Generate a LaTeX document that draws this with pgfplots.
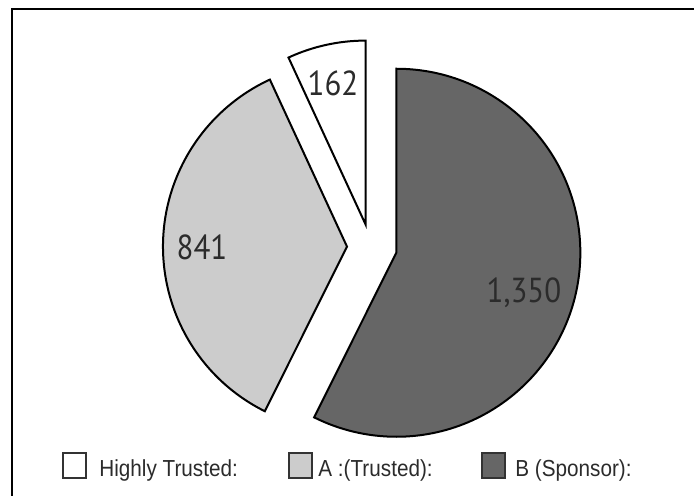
\documentclass[border=0pt]{standalone}
\usepackage{pgfplots}
\usepackage{pgfplotstable}
\pgfplotsset{compat=1.18}
\usepackage{fontspec}
\setmainfont{Liberation Sans}
\newfontfamily\labelfont{PT Sans}

\definecolor{sliceA}{HTML}{CCCCCC}
\definecolor{sliceB}{HTML}{666666}
\definecolor{labtext}{HTML}{2B2B2B}

% pie values
\pgfplotstableread{
name value
HT 162
A 841
B 1350
}\piedata

% text in the reference is slightly stretched vertically
\newcommand\tall[1]{\scalebox{1}[1.12]{#1}}

\begin{document}
\begin{tikzpicture}
\useasboundingbox (0,0) rectangle (347pt,247.5pt);
% angles: B starts at 12 o'clock, all slices clockwise
\pgfplotstablegetelem{0}{value}\of\piedata \let\vW\pgfplotsretval
\pgfplotstablegetelem{1}{value}\of\piedata \let\vA\pgfplotsretval
\pgfplotstablegetelem{2}{value}\of\piedata \let\vB\pgfplotsretval
\pgfmathsetmacro\tot{\vW+\vA+\vB}
\pgfmathsetmacro\bS{90}
\pgfmathsetmacro\bE{\bS-360*(\vB/\tot)}
\pgfmathsetmacro\aE{\bE-360*(\vA/\tot)}
\pgfmathsetmacro\wE{\aE-360*(\vW/\tot)}
\pgfmathsetmacro\bM{(\bS+\bE)/2}
\pgfmathsetmacro\aM{(\bE+\aE)/2}
\pgfmathsetmacro\wM{(\aE+\wE)/2}
\begin{axis}[
    scale only axis,
    width=347pt, height=247.5pt,
    xmin=0, xmax=694, ymin=0, ymax=495,
    hide axis, clip=false,
]
% frame
\draw[line width=1.2pt] (axis cs:12,-5) -- (axis cs:12,486) -- (axis cs:700,486);
% slices
\draw[fill=sliceB, line width=1pt] (axis cs:372,248) ++(\bM:12.5pt) -- ++(\bS:92pt)
    arc[start angle=\bS, end angle=\bE, radius=92pt] -- cycle;
\draw[fill=sliceA, line width=1pt] (axis cs:372,248) ++(\aM:12.5pt) -- ++(\bE:92pt)
    arc[start angle=\bE, end angle=\aE, radius=92pt] -- cycle;
\draw[fill=white, line width=1pt] (axis cs:371,246) ++(\wM:12.5pt) -- ++(\aE:92pt)
    arc[start angle=\aE, end angle=\wE, radius=92pt] -- cycle;
% slice labels
\node[font=\labelfont\fontsize{15.5}{16}\selectfont, text=labtext] at (axis cs:333,412) {\tall{162}};
\node[font=\labelfont\fontsize{15.5}{16}\selectfont, text=labtext] at (axis cs:202,248) {\tall{841}};
\node[font=\labelfont\fontsize{15.5}{16}\selectfont, text=labtext] at (axis cs:524,202) {\tall{1,350}};
% legend
\draw[draw=black!80, line width=0.6pt, fill=white] (axis cs:63,17) rectangle (axis cs:86,42);
\draw[draw=black!80, line width=0.6pt, fill=sliceA] (axis cs:289,17) rectangle (axis cs:312,42);
\draw[draw=black!80, line width=0.6pt, fill=sliceB] (axis cs:482,17) rectangle (axis cs:505,42);
\node[font=\fontsize{10.35}{12}\selectfont, text=labtext, anchor=base west, inner sep=0pt] at (axis cs:99,19) {\tall{Highly Trusted:}};
\node[font=\fontsize{10.35}{12}\selectfont, text=labtext, anchor=base west, inner sep=0pt] at (axis cs:318,19) {\tall{A :(Trusted):}};
\node[font=\fontsize{10.35}{12}\selectfont, text=labtext, anchor=base west, inner sep=0pt] at (axis cs:515,19) {\tall{B (Sponsor):}};
\end{axis}
\end{tikzpicture}
\end{document}
